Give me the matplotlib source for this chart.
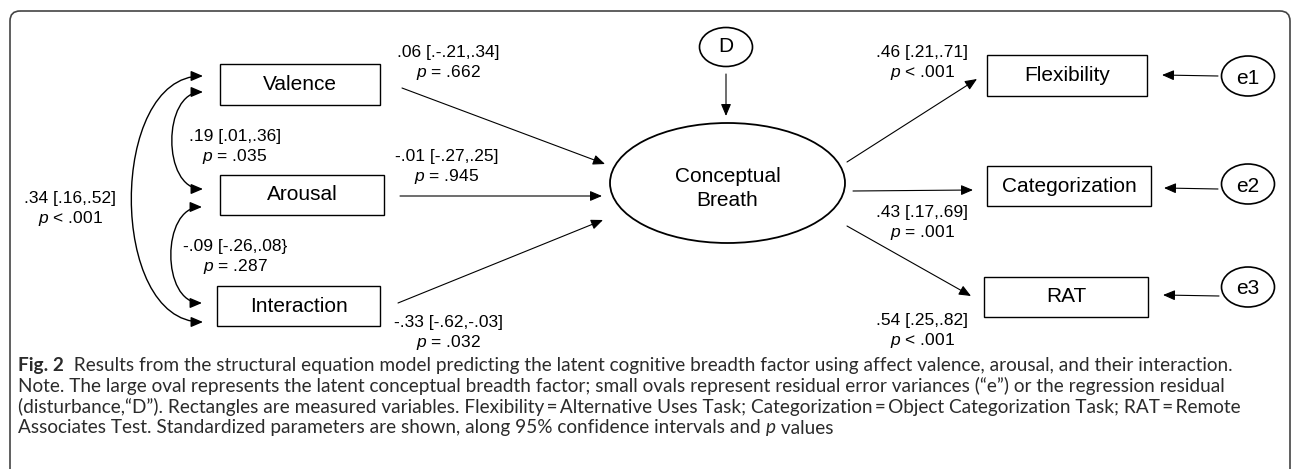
import matplotlib
matplotlib.use("Agg")
import matplotlib.pyplot as plt
from matplotlib.patches import Rectangle, Ellipse, FancyArrowPatch, FancyBboxPatch
from matplotlib.path import Path

# --- model content -------------------------------------------------------
predictors = ["Valence", "Arousal", "Interaction"]
outcomes = ["Flexibility", "Categorization", "RAT"]
latent = ["Conceptual", "Breath"]
disturbance = "D"
residuals = ["e1", "e2", "e3"]

pred_est = [".06 [.-.21,.34]", "-.01 [-.27,.25]", "-.33 [-.62,-.03]"]
pred_p = ["= .662", "= .945", "= .032"]
load_est = [".46 [.21,.71]", ".43 [.17,.69]", ".54 [.25,.82]"]
load_p = ["< .001", "= .001", "< .001"]
# covariances: Valence-Arousal, Arousal-Interaction, Valence-Interaction
cov_est = [".19 [.01,.36]", "-.09 [-.26,.08}", ".34 [.16,.52]"]
cov_p = ["= .035", "= .287", "< .001"]

caption = [
    [("Fig. 2", "bold"), ("  Results from the structural equation model predicting the latent cognitive breadth factor using affect valence, arousal, and their interaction.", "normal")],
    [("Note. The large oval represents the latent conceptual breadth factor; small ovals represent residual error variances (\u201ce\u201d) or the regression residual", "normal")],
    [("(disturbance,\u201cD\u201d). Rectangles are measured variables. Flexibility\u2009=\u2009Alternative Uses Task; Categorization\u2009=\u2009Object Categorization Task; RAT\u2009=\u2009Remote", "normal")],
    [("Associates Test. Standardized parameters are shown, along 95% confidence intervals and ", "normal"), ("p", "italic"), (" values", "normal")],
]

# --- layout (pixel coordinates) -----------------------------------------
pred_boxes = [(220, 64, 160, 41), (220, 175, 164, 40), (217, 286, 163, 40)]
out_boxes = [(987, 55, 160, 41), (987, 166, 164, 40), (984, 277, 164, 40)]
res_centers = [(1248, 76), (1248, 184), (1248, 287)]
res_arrows = [((1218, 76), (1162, 75)), ((1218, 189), (1164, 188)), ((1219, 296), (1163, 295))]
lat_center = (727.5, 183)
d_center = (726, 47)
pred_paths = [((402, 88), (605, 164)), ((400, 196), (602, 196)), ((398, 303), (603, 220))]
out_paths = [((847, 162), (977, 79)), ((853, 191), (973, 190)), ((847, 226), (971, 296))]
pred_lbl = [(448, 53), (447, 157), (448, 322)]
out_lbl = [(922, 53), (922, 212), (922, 320)]
cov_arcs = [((203, 92), (203, 189), 41), ((202, 207), (202, 303), 41), ((203, 76), (203, 322), 95)]
cov_lbl = [(235, 136), (235, 247), (70, 198)]

W, H = 1292, 469
plt.rcParams["font.family"] = ["Liberation Sans", "DejaVu Sans"]
plt.rcParams["mathtext.fontset"] = "custom"
plt.rcParams["mathtext.rm"] = "Liberation Sans"
plt.rcParams["mathtext.it"] = "Liberation Sans:italic"

fig = plt.figure(figsize=(W / 100, H / 100), dpi=100)
ax = fig.add_axes([0, 0, 1, 1])
ax.set_xlim(0, W)
ax.set_ylim(H, 0)
ax.axis("off")

LW = 0.8
HEAD = "-|>,head_length=0.4,head_width=0.17"
NODE_FS = 15
LBL_FS = 12.5


def arrow(p0, p1, style=HEAD):
    ax.add_patch(FancyArrowPatch(p0, p1, arrowstyle=style, mutation_scale=18,
                                 shrinkA=0, shrinkB=0, lw=LW, color="black"))


def label(x, y, est, p):
    ax.text(x, y, est, ha="center", va="center", fontsize=LBL_FS)
    ax.text(x, y + 20, "$p$ " + p, ha="center", va="center", fontsize=LBL_FS)


# frame
ax.add_patch(FancyBboxPatch((10, 11), 1280, 600, boxstyle="round,pad=0,rounding_size=10",
                            fill=False, lw=1.2, ec="#444"))

for name, (x, y, w, h) in zip(predictors, pred_boxes):
    ax.add_patch(Rectangle((x, y), w, h, fill=False, lw=1.0, ec="black"))
    ax.text(x + w / 2, y + h / 2, name, ha="center", va="center", fontsize=NODE_FS)
for name, (x, y, w, h) in zip(outcomes, out_boxes):
    ax.add_patch(Rectangle((x, y), w, h, fill=False, lw=1.0, ec="black"))
    ax.text(x + w / 2, y + h / 2, name, ha="center", va="center", fontsize=NODE_FS)

ax.add_patch(Ellipse(lat_center, 235, 120, fill=False, lw=1.3, ec="black"))
for j, line in enumerate(latent):
    ax.text(lat_center[0], lat_center[1] - 7 + 24 * j, line, ha="center", va="center",
            fontsize=NODE_FS)
ax.add_patch(Ellipse(d_center, 53, 39, fill=False, lw=1.2, ec="black"))
ax.text(d_center[0], d_center[1], disturbance, ha="center", va="center", fontsize=NODE_FS)
arrow((726, 74), (726, 116))

for name, c, (a0, a1) in zip(residuals, res_centers, res_arrows):
    ax.add_patch(Ellipse(c, 53, 40, fill=False, lw=1.2, ec="black"))
    ax.text(c[0], c[1] + 2, name, ha="center", va="center", fontsize=NODE_FS)
    arrow(a0, a1)

for (a0, a1), (lx, ly), est, p in zip(pred_paths, pred_lbl, pred_est, pred_p):
    arrow(a0, a1)
    label(lx, ly, est, p)
for (a0, a1), (lx, ly), est, p in zip(out_paths, out_lbl, load_est, load_p):
    arrow(a0, a1)
    label(lx, ly, est, p)

for (p0, p1, k), (lx, ly), est, p in zip(cov_arcs, cov_lbl, cov_est, cov_p):
    verts = [p0, (p0[0] - k, p0[1]), (p1[0] - k, p1[1]), p1]
    codes = [Path.MOVETO, Path.CURVE4, Path.CURVE4, Path.CURVE4]
    ax.add_patch(FancyArrowPatch(path=Path(verts, codes),
                                 arrowstyle="<|-|>,head_length=0.4,head_width=0.17",
                                 mutation_scale=18, lw=1.0, color="black"))
    label(lx, ly, est, p)

# caption, drawn run by run so that bold / italic pieces sit inline
renderer = fig.canvas.get_renderer()
CAP_FONT = ["Lato", "DejaVu Sans"]
for i, runs in enumerate(caption):
    x = 18
    y = 365 + 21 * i
    for s, style in runs:
        t = ax.text(x, y, s, ha="left", va="center", fontsize=13.7, family=CAP_FONT,
                    color="#2b2b2b",
                    fontweight="bold" if style == "bold" else "normal",
                    fontstyle="italic" if style == "italic" else "normal")
        x += t.get_window_extent(renderer=renderer).width

fig.savefig("out.png", dpi=100)
